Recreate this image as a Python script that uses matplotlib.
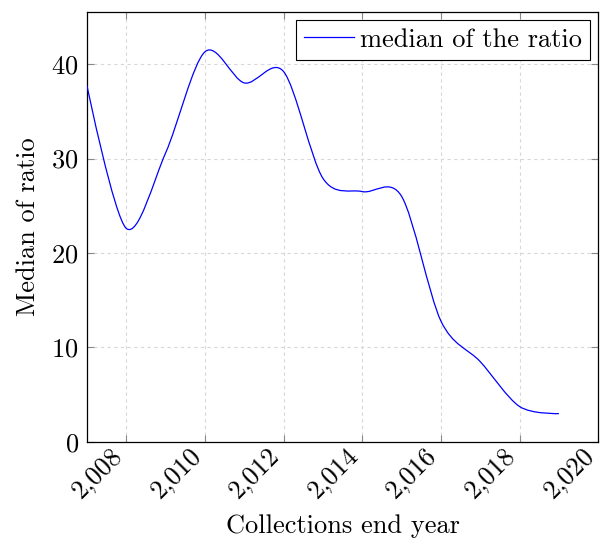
import numpy as np
import matplotlib
matplotlib.use("Agg")
import matplotlib.pyplot as plt
import matplotlib.transforms as mtransforms
from matplotlib.path import Path
from matplotlib.patches import PathPatch
from matplotlib.lines import Line2D

plt.rcParams['font.family'] = 'serif'
plt.rcParams['font.serif'] = ['cmr10']
plt.rcParams['mathtext.fontset'] = 'cm'
plt.rcParams['axes.formatter.use_mathtext'] = True

years = [2007, 2008, 2009, 2010, 2011, 2012, 2013, 2014, 2015, 2016, 2017, 2018, 2019]
median_ratio = [37.7, 22.6, 30.6, 41.3, 38.0, 39.2, 27.9, 26.5, 26.0, 12.8, 8.5, 3.75, 3.0]

xticks = [2008, 2010, 2012, 2014, 2016, 2018, 2020]
xtick_labels = ["2,008", "2,010", "2,012", "2,014", "2,016", "2,018", "2,020"]
yticks = [0, 10, 20, 30, 40]

fs = 19

fig = plt.figure(figsize=(6.0, 5.49), dpi=100)
ax = fig.add_axes([0.145, 0.195, 0.852, 0.783])

# smooth curve like tikz "plot smooth" (tension 0.55)
pts = np.column_stack([years, median_ratio])
f = 0.2775 * 0.55
verts = [pts[0]]
codes = [Path.MOVETO]
n = len(pts)
for i in range(n - 1):
    p0 = pts[i - 1] if i > 0 else pts[i]
    p1 = pts[i]
    p2 = pts[i + 1]
    p3 = pts[i + 2] if i + 2 < n else pts[i + 1]
    c1 = p1 + f * (p2 - p0) if i > 0 else p1
    c2 = p2 - f * (p3 - p1) if i + 2 < n else p2
    verts += [c1, c2, p2]
    codes += [Path.CURVE4] * 3
ax.add_patch(PathPatch(Path(verts, codes), facecolor='none', edgecolor='blue', lw=0.9, zorder=3))

ax.set_xlim(2007, 2020)
ax.set_ylim(0, 45.5)
ax.set_xticks(xticks)
ax.set_xticklabels(xtick_labels, rotation=45, ha='right', va='baseline', rotation_mode='anchor')
ax.set_yticks(yticks)
ax.tick_params(direction='in', length=5, color='#888888', labelsize=fs, top=True, right=True, width=0.8)
ax.tick_params(axis='x', pad=10.8)
ax.tick_params(axis='y', pad=6)
shift = mtransforms.ScaledTranslation(-3 / 100, 0, fig.dpi_scale_trans)
for lab in ax.get_xticklabels():
    lab.set_transform(lab.get_transform() + shift)
ax.grid(True, color='#d8d8d8', linestyle=(0, (3, 3)), linewidth=0.8)
for s in ax.spines.values():
    s.set_linewidth(0.9)

ax.set_xlabel("Collections end year", fontsize=fs, labelpad=8)
ax.set_ylabel("Median of ratio", fontsize=fs, labelpad=8)

h = Line2D([], [], color='blue', lw=0.9)
leg = ax.legend([h], ["median of the ratio"], loc='upper right', fontsize=fs, fancybox=False,
                framealpha=1, edgecolor='black', handlelength=1.9, handletextpad=0.25,
                borderaxespad=0.3, borderpad=0.3)
leg.get_frame().set_linewidth(0.8)

fig.savefig("out.png", dpi=100)
